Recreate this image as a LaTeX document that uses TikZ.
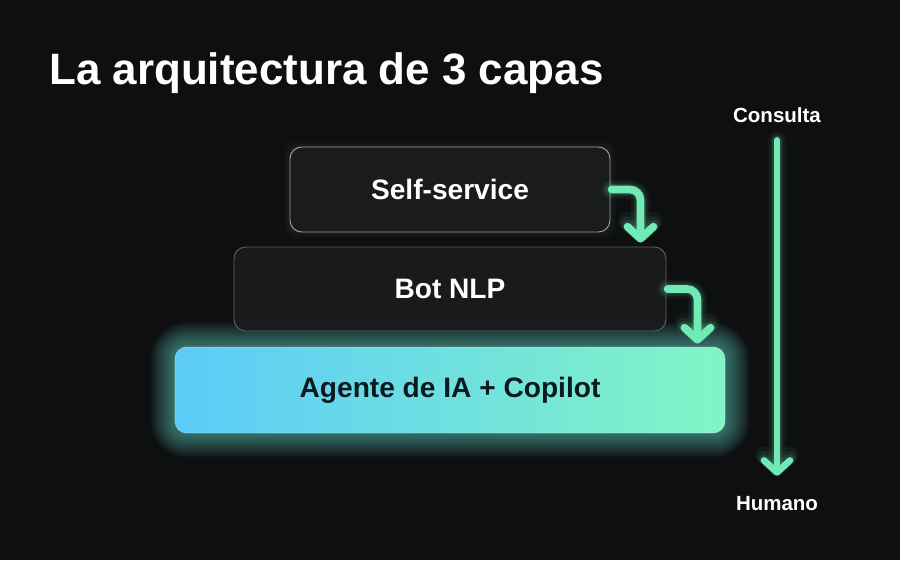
\documentclass[tikz,border=0pt]{standalone}
\usepackage{fontspec}
\setmainfont{Liberation Sans}
\usetikzlibrary{arrows.meta, positioning, calc, backgrounds}
\definecolor{bgdark}{HTML}{0E0F10}
\definecolor{boxdark}{HTML}{1B1C1E}
\definecolor{edgegray}{HTML}{5E5F61}
\definecolor{mint}{HTML}{72EAB6}
\definecolor{skyblue}{HTML}{5BCBF8}
\definecolor{mintlight}{HTML}{82F5C6}
\definecolor{inkdark}{HTML}{0A1A1E}
\tikzset{
    layer/.style={draw=edgegray, line width=0.8pt, fill=boxdark, fill opacity=0.88, text opacity=1,
        rounded corners=10pt, inner sep=0pt, text=white, font=\fontsize{24}{28}\selectfont\bfseries},
    flow/.style={mint, line width=6.6pt, line cap=round, line join=round, rounded corners=9pt,
        -{Straight Barb[round, length=0.36cm, width=0.78cm]}},
    sidelabel/.style={text=white, inner sep=0pt, font=\fontsize{17.5}{20}\selectfont\bfseries}
}

\begin{document}
\begin{tikzpicture}[x=0.03cm, y=-0.03cm]
% === background and frame ===
\begin{scope}[on background layer]
    \fill[bgdark] (0,0) rectangle (900,560);
\end{scope}
\useasboundingbox (0,0) rectangle (900,560);
% === title ===
\node[anchor=base west, inner sep=0pt, text=white, font=\fontsize{37.5}{42}\selectfont\bfseries]
    (title) at (49,84) {La arquitectura de 3 capas};
% === the three layers ===
\node[layer, draw=gray!75, minimum width=9.6cm, minimum height=2.55cm] (self) at (450,189.5) {Self-service};
\node[layer, minimum width=12.96cm, minimum height=2.52cm] (bot) at (450,289) {Bot NLP};
\node[rounded corners=10pt, inner sep=0pt, left color=skyblue, right color=mintlight,
    draw=white, draw opacity=0.3, line width=0.8pt, text=inkdark, font=\fontsize{24}{28}\selectfont\bfseries,
    minimum width=16.5cm, minimum height=2.58cm] (agent) at (450,390) {Agente de IA + Copilot};
% glow round the boxes
\begin{scope}[on background layer]
    \foreach \s in {1,...,16} {
        \pgfmathsetmacro{\rc}{10+1.3*\s}
        \fill[mint!60!skyblue, opacity=0.04, rounded corners=\rc pt]
            ($(agent.south west)+(-1.5*\s,1.5*\s)$) rectangle ($(agent.north east)+(1.5*\s,-1.5*\s)$);
    }
    \foreach \s in {1,...,6} {
        \fill[white, opacity=0.012, rounded corners=11pt]
            ($(self.south west)+(-\s,\s)$) rectangle ($(self.north east)+(\s,-\s)$);
    }
\end{scope}
% === side labels ===
\node[sidelabel, anchor=base] (consulta) at (777,122) {Consulta};
\node[sidelabel, anchor=base] (humano) at (777,510) {Humano};
% === arrows with glow ===
\foreach \w/\o in {16/0.06, 12/0.08, 9/0.12} {
    \draw[flow, line width=\w pt, opacity=\o] (self.east) -| ($(bot.north east)+(-26,-4)$);
    \draw[flow, line width=\w pt, opacity=\o] (bot.east) -| ($(agent.north east)+(-28,-3)$);
    \draw[flow, line width=\w pt - 1pt, opacity=\o, shorten <=0.54cm, shorten >=0.6cm] (consulta) -- (humano);
}
\draw[flow, shorten <=1pt] (self.east) -| ($(bot.north east)+(-26,-4)$);
\draw[flow, shorten <=1pt] (bot.east) -| ($(agent.north east)+(-28,-3)$);
\draw[flow, line width=5.6pt, shorten <=0.54cm, shorten >=0.6cm] (consulta) -- (humano);
\end{tikzpicture}
\end{document}
